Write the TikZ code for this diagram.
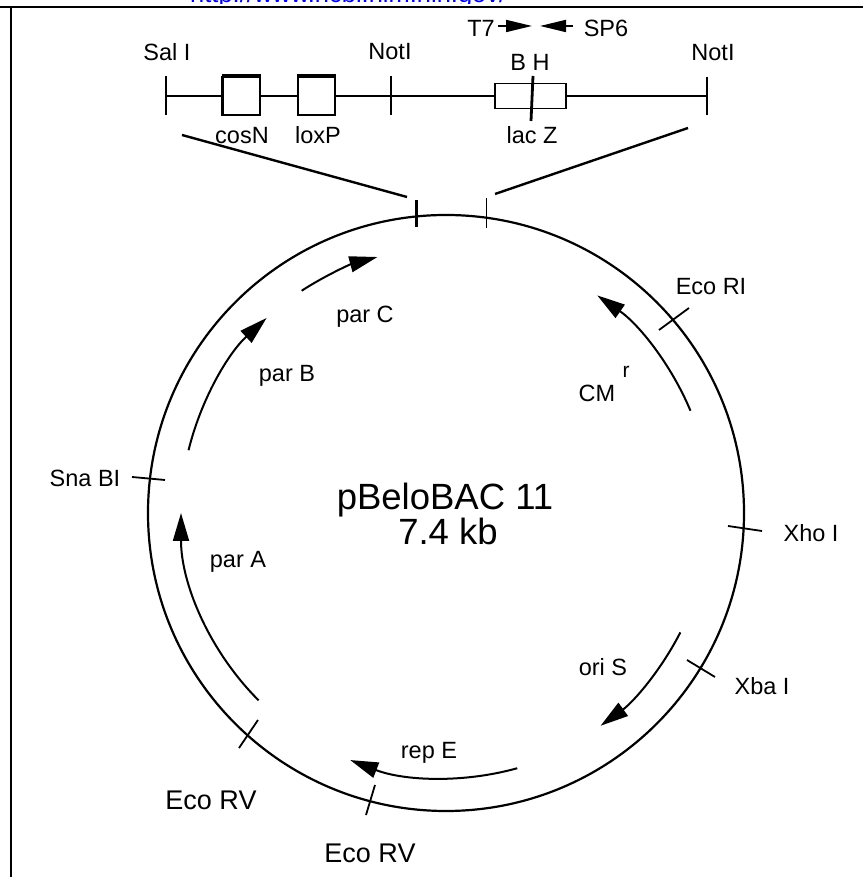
\documentclass[tikz,border=0pt]{standalone}
\usepackage{fontspec}
\setmainfont{Liberation Sans}
\usetikzlibrary{arrows.meta,calc,positioning}
\definecolor{urlblue}{rgb}{0,0,0.95}

\tikzset{
    site/.style={font=\fontsize{23.5}{26}\selectfont,inner sep=0,text height=17pt,text depth=0pt},
    bigsite/.style={font=\fontsize{27}{30}\selectfont,inner sep=0,text height=19pt,text depth=0pt},
    title/.style={font=\fontsize{36.5}{40}\selectfont,inner sep=0,text height=26pt,text depth=0pt},
    mapbox/.style={draw,line width=1.8pt,inner sep=0,minimum height=38pt},
    gene/.style={line width=2pt,-{Stealth[inset=0pt,length=28pt,width=16pt]}},
    primer/.style={line width=1.8pt,-{Stealth[inset=0pt,length=26pt,width=12pt]}},
    cut/.style={line width=1.8pt}
}

\begin{document}
\begin{tikzpicture}[x=1pt,y=1pt]
                  \useasboundingbox (0,0) rectangle (863,877);
                  \coordinate (ctr) at (446,364);

                  % Frame and cropped link
                  \node[font=\fontsize{25.5}{28}\selectfont,urlblue,inner sep=0,anchor=base west] (link) at (190,874) {http://www.ncbi.nlm.nih.gov/};
                  \fill[white] (0,873) rectangle (863,868);
                  \coordinate (frameTL) at (11,870);
                  \draw[line width=2.4pt] (0,870) -- (863,870);
                  \draw[line width=2.6pt] (frameTL) -- (11,0);

                  % Insert map
                  \node[mapbox,minimum width=37pt] (cosNbox) at (241.5,781) {};
                  \node[mapbox,minimum width=37pt] (loxPbox) at (316.5,781) {};
                  \node[mapbox,minimum width=71pt,minimum height=25pt] (lacZbox) at (530.5,781) {};
                  \draw[line width=3.4pt] (cosNbox.north west) -- (cosNbox.north east);
                  \draw[line width=3.4pt] (loxPbox.north west) -- (loxPbox.north east);
                  \draw[line width=3pt] (cosNbox.north west) -- (cosNbox.south west);
                  \coordinate (salTop) at (166,801);
                  \coordinate (salBot) at (166,762);
                  \coordinate (notOneTop) at (391,801);
                  \coordinate (notOneBot) at (391,762);
                  \coordinate (notTwoTop) at (707,800);
                  \coordinate (notTwoBot) at (707,762);
                  \draw[cut] (salTop) -- (salBot);
                  \draw[cut] (notOneTop) -- (notOneBot);
                  \draw[cut] (notTwoTop) -- (notTwoBot);
                  \draw[cut] (salTop |- cosNbox.west) -- (cosNbox.west);
                  \draw[cut] (cosNbox.east) -- (loxPbox.west);
                  \draw[cut] (loxPbox.east) -- (lacZbox.west);
                  \draw[cut] (lacZbox.east) -- (notTwoTop |- lacZbox.east);
                  \draw[line width=2.8pt] (533,801) -- (531,756);

                  \node[site] (salLabel) at (167,825) {Sal I};
                  \node[site] (notOneLabel) at (390,826) {NotI};
                  \node[site] (bhLabel) at (530,815) {B H};
                  \node[site] (notTwoLabel) at (713,825) {NotI};
                  \node[site] (cosNLabel) at (242,742) {cosN};
                  \node[site] (loxPLabel) at (318,742) {loxP};
                  \node[site] (lacZLabel) at (532,742) {lac Z};

                  % Primers
                  \node[site] (tSeven) at (481,849) {T7};
                  \node[site] (spSix) at (606,849) {SP6};
                  \draw[primer] (498,851) -- (532,851);
                  \draw[primer] (573,851) -- (540,851);

                  % Lines down to the plasmid
                  \coordinate (wedgeA) at (182,742);
                  \coordinate (wedgeB) at (407,680);
                  \coordinate (wedgeC) at (688,749);
                  \coordinate (wedgeD) at (495,683);
                  \draw[line width=2.4pt] (wedgeA) -- (wedgeB);
                  \draw[line width=2.4pt] (wedgeC) -- (wedgeD);

                  % Plasmid circle
                  \draw[line width=2.2pt] (ctr) circle[radius=298];
                  \draw[line width=2.8pt] (416.6,677) -- (416.6,650);
                  \draw[cut] (486.5,679) -- (486.5,649);

                  % Restriction sites
                  \draw[cut] (132,400) -- (165,397);
                  \draw[cut] (728,351) -- (762,346);
                  \draw[cut] (659,547) -- (689,569);
                  \draw[cut] (687,217) -- (715,200);
                  \draw[cut] (258,157) -- (239,129);
                  \draw[cut] (375,92) -- (366,62);

                  \node[site] (snaLabel) at (85,399) {Sna BI};
                  \node[site] (xhoLabel) at (811,344) {Xho I};
                  \node[site] (ecoRILabel) at (711,591) {Eco RI};
                  \node[site] (xbaLabel) at (762,191) {Xba I};
                  \node[bigsite] (ecoRVLeft) at (211,77) {Eco RV};
                  \node[bigsite] (ecoRVBot) at (370,24) {Eco RV};

                  % Genes
                  \draw[gene] ($(ctr)+(225:265)$) arc[start angle=225,end angle=180,radius=265];
                  \draw[gene] ($(ctr)+(166.3:265)$) arc[start angle=166.3,end angle=132.6,radius=265];
                  \draw[gene] ($(ctr)+(123:265)$) arc[start angle=123,end angle=105,radius=265];
                  \draw[gene] ($(ctr)+(22.7:265)$) arc[start angle=22.7,end angle=55.2,radius=265];
                  \draw[gene] ($(ctr)+(-27:263)$) arc[start angle=-27,end angle=-54,radius=263];
                  \draw[gene] ($(ctr)+(-74.4:265)$) arc[start angle=-74.4,end angle=-111.2,radius=265];

                  \node[site] (parALabel) at (238,318) {par A};
                  \node[site] (parBLabel) at (287,504) {par B};
                  \node[site] (parCLabel) at (365,563) {par C};
                  \node[site] (cmLabel) at (597,484) {CM};
                  \node[font=\fontsize{21}{23}\selectfont,inner sep=0] (cmSup) at (626,505) {r};
                  \node[site] (oriLabel) at (603,210) {ori S};
                  \node[site] (repLabel) at (429,127) {rep E};

                  % Name in the middle
                  \node[title] (plasmidName) at (445,380) {pBeloBAC 11};
                  \node[title] (plasmidSize) at (448,345) {7.4 kb};
              \end{tikzpicture}
\end{document}
